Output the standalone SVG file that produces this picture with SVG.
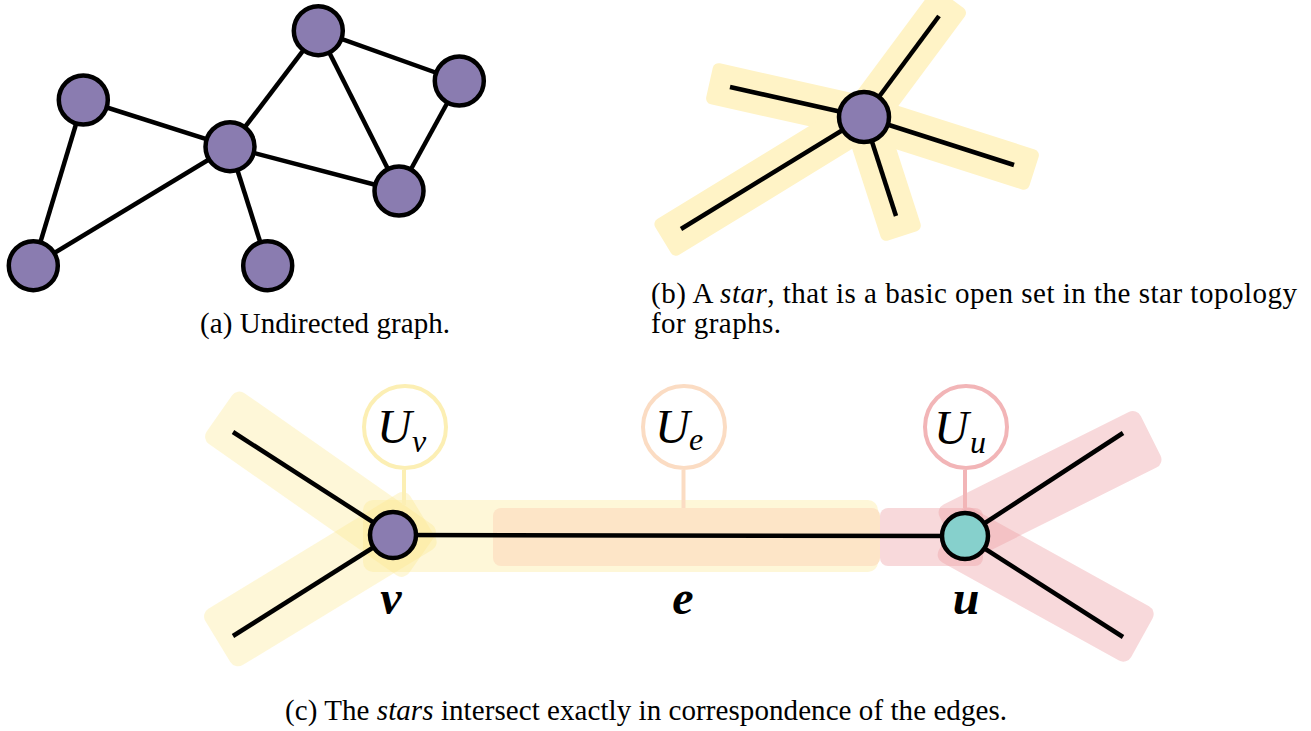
<svg xmlns="http://www.w3.org/2000/svg" width="1311" height="731" viewBox="0 0 1311 731">
<style>
.edge{stroke:#000;stroke-width:4.5;stroke-linecap:butt;fill:none}
.nodeP{fill:#8a7cb0;stroke:#000;stroke-width:4.5}
.nodeT{fill:#86d0cc;stroke:#000;stroke-width:4.5}
.bandB{fill:#fff3c6}
.bandY{fill:#fce98f;fill-opacity:0.35}
.bandO{fill:#fde5c7}
.bandP{fill:#eea0a6;fill-opacity:0.4}
.cap{font-family:"Liberation Serif","Times New Roman",serif;font-size:29px;fill:#000}
.math{font-family:"Liberation Serif","Times New Roman",serif;font-style:italic;fill:#000}
.lbl{font-family:"Liberation Serif","Times New Roman",serif;font-style:italic;font-weight:bold;font-size:48px;fill:#000}
</style>
<rect width="1311" height="731" fill="#fff"/>

<!-- (a) undirected graph -->
<g id="graph-a">
<g id="edges-a">
<line class="edge" x1="318.3" y1="30.7" x2="459.3" y2="81"/>
<line class="edge" x1="318.3" y1="30.7" x2="230" y2="146.7"/>
<line class="edge" x1="318.3" y1="30.7" x2="399" y2="191"/>
<line class="edge" x1="459.3" y1="81" x2="399" y2="191"/>
<line class="edge" x1="83.3" y1="100" x2="230" y2="146.7"/>
<line class="edge" x1="83.3" y1="100" x2="33.3" y2="265.7"/>
<line class="edge" x1="230" y1="146.7" x2="33.3" y2="265.7"/>
<line class="edge" x1="230" y1="146.7" x2="399" y2="191"/>
<line class="edge" x1="230" y1="146.7" x2="267.7" y2="265.7"/>
</g>
<g id="a-n1"><circle class="nodeP" cx="318.3" cy="30.7" r="24.5"/></g>
<g id="a-n2"><circle class="nodeP" cx="459.3" cy="81" r="24.5"/></g>
<g id="a-n3"><circle class="nodeP" cx="83.3" cy="100" r="24.5"/></g>
<g id="a-n4"><circle class="nodeP" cx="230" cy="146.7" r="24.5"/></g>
<g id="a-n5"><circle class="nodeP" cx="399" cy="191" r="24.5"/></g>
<g id="a-n6"><circle class="nodeP" cx="33.3" cy="265.7" r="24.5"/></g>
<g id="a-n7"><circle class="nodeP" cx="267.7" cy="265.7" r="24.5"/></g>
</g>
<text class="cap" x="200" y="333" textLength="250" lengthAdjust="spacing">(a) Undirected graph.</text>

<!-- (b) star -->
<g id="star-b">
<g id="bands-b">
<rect class="bandB" x="-10" y="-21" width="156.8" height="42" rx="6" transform="translate(864,117) rotate(-53.4)"/>
<rect class="bandB" x="-10" y="-21" width="168.3" height="42" rx="6" transform="translate(864,117) rotate(-167.4)"/>
<rect class="bandB" x="-10" y="-21" width="188.5" height="42" rx="6" transform="translate(864,117) rotate(17.7)"/>
<rect class="bandB" x="-10" y="-21" width="245.6" height="42" rx="6" transform="translate(864,117) rotate(148.5)"/>
<rect class="bandB" x="-10" y="-21" width="135" height="42" rx="6" transform="translate(864,117) rotate(72.1)"/>
</g>
<g id="edges-b">
<line class="edge" x1="864" y1="117" x2="939" y2="16"/>
<line class="edge" x1="864" y1="117" x2="730" y2="87"/>
<line class="edge" x1="864" y1="117" x2="1014" y2="165"/>
<line class="edge" x1="864" y1="117" x2="681" y2="229"/>
<line class="edge" x1="864" y1="117" x2="896" y2="216"/>
</g>
<g id="b-center"><circle class="nodeP" cx="864" cy="117" r="25"/></g>
</g>
<text class="cap" x="651" y="303" textLength="646" lengthAdjust="spacing">(b) A <tspan font-style="italic">star</tspan>, that is a basic open set in the star topology</text>
<text class="cap" x="651" y="333" textLength="130" lengthAdjust="spacing">for graphs.</text>

<!-- (c) intersecting stars -->
<g id="bands-c">
<g id="band-Uv">
<rect class="bandY" x="-35" y="-31" width="247" height="62" rx="9" transform="translate(393,535) rotate(215)"/>
<rect class="bandY" x="-35" y="-33" width="240" height="66" rx="9" transform="translate(393,535) rotate(148.7)"/>
<rect class="bandY" x="363" y="500" width="515" height="72" rx="10"/>
</g>
<g id="band-Ue">
<rect class="bandO" x="493" y="508" width="387" height="58" rx="8"/>
</g>
<g id="band-Uu">
<rect class="bandP" x="880" y="508" width="103" height="58" rx="8"/>
<rect class="bandP" x="-15" y="-36" width="225" height="62" rx="9" transform="translate(965,534) rotate(-26.5)"/>
<rect class="bandP" x="-15" y="-26" width="220" height="62" rx="9" transform="translate(965,534) rotate(29)"/>
</g>
</g>

<g id="labels-c">
<g id="Uv">
<line x1="404" y1="470" x2="404" y2="505" stroke="#fcefb4" stroke-width="4"/>
<circle cx="405" cy="427" r="41" fill="#fff" stroke="#fcefb4" stroke-width="4"/>
<text class="math" font-size="48" x="377" y="443">U</text>
<text class="math" font-size="32" x="412" y="452">v</text>
</g>
<g id="Ue">
<line x1="683.5" y1="470" x2="683.5" y2="508" stroke="#fbdcc3" stroke-width="4"/>
<circle cx="684" cy="427" r="41" fill="#fff" stroke="#fbdcc3" stroke-width="4"/>
<text class="math" font-size="48" x="655" y="443">U</text>
<text class="math" font-size="32" x="689" y="450">e</text>
</g>
<g id="Uu">
<line x1="965" y1="470" x2="965" y2="508" stroke="#f2b5b7" stroke-width="4"/>
<circle cx="966" cy="427" r="41" fill="#fff" stroke="#f2b5b7" stroke-width="4"/>
<text class="math" font-size="48" x="934" y="444">U</text>
<text class="math" font-size="32" x="970" y="453">u</text>
</g>
</g>

<g id="edges-c">
<line class="edge" x1="393" y1="535" x2="233" y2="432"/>
<line class="edge" x1="393" y1="535" x2="233" y2="636"/>
<line class="edge" x1="393" y1="535" x2="965" y2="536"/>
<line class="edge" x1="965" y1="536" x2="1123" y2="433"/>
<line class="edge" x1="965" y1="536" x2="1123" y2="637"/>
</g>
<g id="node-v"><circle class="nodeP" cx="393" cy="535" r="23"/><text class="lbl" x="391" y="614" text-anchor="middle">v</text></g>
<g id="edge-e-label"><text class="lbl" x="683" y="614" text-anchor="middle">e</text></g>
<g id="node-u"><circle class="nodeT" cx="965" cy="536" r="23"/><text class="lbl" x="966" y="614" text-anchor="middle">u</text></g>

<text class="cap" x="285" y="720" textLength="722" lengthAdjust="spacing">(c) The <tspan font-style="italic">stars</tspan> intersect exactly in correspondence of the edges.</text>
</svg>
